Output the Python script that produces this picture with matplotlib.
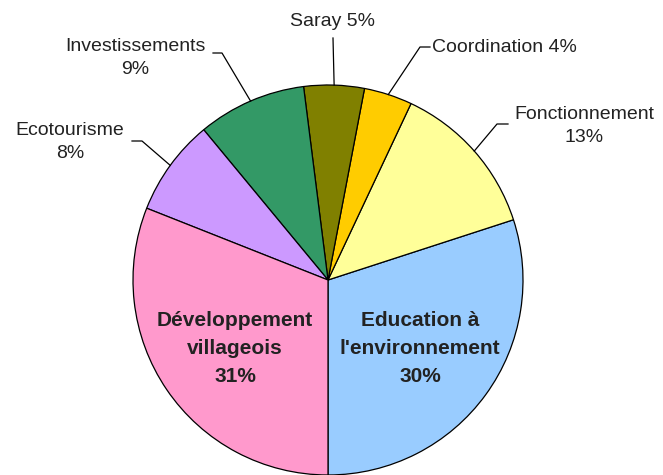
import numpy as np
import matplotlib
matplotlib.use("Agg")
import matplotlib.pyplot as plt

plt.rcParams['font.family'] = ['Liberation Sans', 'DejaVu Sans']

# Data (counterclockwise from the bottom)
categories = ["Education à\nl'environnement", "Fonctionnement", "Coordination", "Saray",
              "Investissements", "Ecotourisme", "Développement\nvillageois"]
values = [30, 13, 4, 5, 9, 8, 31]
colors = ["#99CCFF", "#FFFF99", "#FFCC00", "#808000", "#339966", "#CC99FF", "#FF99CC"]

W, H = 663, 475
fig = plt.figure(figsize=(W / 100, H / 100), dpi=100)
ax = fig.add_axes([0, 0, 1, 1])

cx, cy, R = 328, H - 280, 195
wedges, _ = ax.pie(values, colors=colors, startangle=-90, counterclock=True,
                   center=(cx, cy), radius=R,
                   wedgeprops=dict(edgecolor="black", linewidth=0.9))
ax.set_xlim(0, W)
ax.set_ylim(0, H)
ax.axis('off')

def img(x, y):
    return x, H - y

txt_color = "#222222"

# Inside labels (bold)
inside = {0: (420, 348), 6: (235, 348)}
for i, (x, y) in inside.items():
    ax.text(*img(x, y), f"{categories[i]}\n{values[i]}%", ha="center", va="center",
            fontsize=15, fontweight="bold", color=txt_color, linespacing=1.6)

# Outside labels with leader lines
outside = {
    3: dict(txt=(333, 22), ha="center", elbow=(333, 38), end=(333, 38),
            label=f"{categories[3]} {values[3]}%"),
    2: dict(txt=(432, 47), ha="left", elbow=(420, 47), end=(430, 47),
            label=f"{categories[2]} {values[2]}%"),
    1: dict(txt=(584, 126), ha="center", elbow=(497, 124), end=(508, 124),
            label=f"{categories[1]}\n{values[1]}%"),
    4: dict(txt=(135, 58), ha="center", elbow=(222, 53), end=(213, 53),
            label=f"{categories[4]}\n{values[4]}%"),
    5: dict(txt=(70, 142), ha="center", elbow=(142, 141), end=(132, 141),
            label=f"{categories[5]}\n{values[5]}%"),
}
for i, d in outside.items():
    w = wedges[i]
    th = np.deg2rad((w.theta1 + w.theta2) / 2)
    ex, ey = cx + R * np.cos(th), cy + R * np.sin(th)
    bx, by = img(*d["elbow"])
    fx, fy = img(*d["end"])
    ax.plot([ex, bx, fx], [ey, by, fy], color="black", lw=0.9)
    ax.text(*img(*d["txt"]), d["label"], ha=d["ha"], va="center", fontsize=14,
            color=txt_color, linespacing=1.5)

fig.savefig("out.png", dpi=100, facecolor="white")
